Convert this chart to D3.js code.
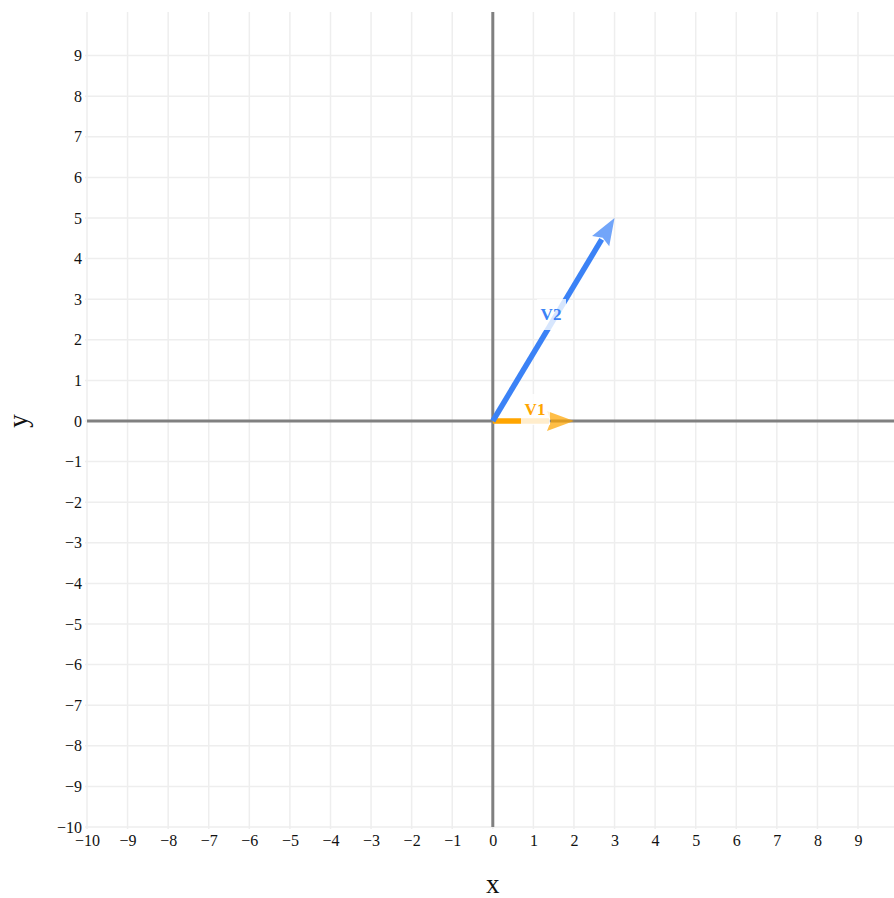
<!DOCTYPE html>
<html><head><meta charset="utf-8">
<script src="https://cdn.jsdelivr.net/npm/d3@7"></script>
<style>body{margin:0;background:#fff}svg{display:block}text{font-family:"Liberation Serif","DejaVu Serif",serif}</style>
</head><body><svg id="c" width="894" height="898"></svg>
<script>
const xTicks = d3.range(-10, 10);
const yTicks = d3.range(-10, 10);
const vectorNames = ["V1", "V2"];
const vectorX = [2, 3];
const vectorY = [0, 5];
const vectorColors = ["#FFA500", "#3B82F6"];

(function () {
const svg = d3.select("#c");
const x = d3.scaleLinear().domain([-10, 10]).range([87, 898.6]);
const y = d3.scaleLinear().domain([-10, 10]).range([827, 15]);
const pTop = 12, pBottom = 827, pLeft = 87, pRight = 894;

const grid = svg.append("g");
grid.selectAll(".gx").data(xTicks).join("line")
  .attr("x1", d => x(d)).attr("x2", d => x(d)).attr("y1", pTop).attr("y2", pBottom + 2)
  .attr("stroke", "#eeeeee").attr("stroke-width", 1.5);
grid.selectAll(".gy").data(yTicks).join("line")
  .attr("y1", d => y(d)).attr("y2", d => y(d)).attr("x1", pLeft - 2).attr("x2", pRight)
  .attr("stroke", "#eeeeee").attr("stroke-width", 1.5);

const xAxis = d3.axisBottom(x).tickValues(xTicks).tickSize(0).tickPadding(8);
const gx = svg.append("g").attr("transform", `translate(0,${pBottom})`).call(xAxis);
gx.select(".domain").remove();
gx.selectAll("text").attr("font-size", 16).attr("fill", "#111").style("font-family", "Liberation Serif, serif");

const yAxis = d3.axisLeft(y).tickValues(yTicks).tickSize(0).tickPadding(3);
const gy = svg.append("g").attr("transform", `translate(${pLeft - 2},0)`).call(yAxis);
gy.select(".domain").remove();
gy.selectAll("text").attr("font-size", 16).attr("fill", "#111").style("font-family", "Liberation Serif, serif");

svg.append("line").attr("x1", pLeft).attr("x2", pRight).attr("y1", y(0)).attr("y2", y(0))
  .attr("stroke", "#808080").attr("stroke-width", 3);
svg.append("line").attr("x1", x(0)).attr("x2", x(0)).attr("y1", pTop).attr("y2", pBottom)
  .attr("stroke", "#808080").attr("stroke-width", 3);

const headLen = 27, headW = 10;
vectorNames.forEach((name, i) => {
  const x0 = x(0), y0 = y(0), x1 = x(vectorX[i]), y1 = y(vectorY[i]);
  const dx = x1 - x0, dy = y1 - y0, L = Math.hypot(dx, dy);
  const ux = dx / L, uy = dy / L;
  const bx = x1 - ux * headLen, by = y1 - uy * headLen;
  const g = svg.append("g");
  g.append("line").attr("x1", x0).attr("y1", y0).attr("x2", bx + ux * 2).attr("y2", by + uy * 2)
    .attr("stroke", vectorColors[i]).attr("stroke-width", 5.5);
  const px = -uy, py = ux;
  g.append("path")
    .attr("d", `M${x1},${y1}L${bx + px * headW},${by + py * headW}L${bx + ux * 4},${by + uy * 4}L${bx - px * headW},${by - py * headW}Z`)
    .attr("fill", vectorColors[i]).attr("fill-opacity", 0.72);
});

const labelPos = [[535, 409], [551, 314]];
vectorNames.forEach((name, i) => {
  const [lx, ly] = labelPos[i];
  svg.append("rect").attr("x", lx - 14).attr("y", ly - 15).attr("width", 29).attr("height", 31)
    .attr("fill", "#fff").attr("fill-opacity", 0.8);
  svg.append("text").attr("x", lx).attr("y", ly + 6).attr("text-anchor", "middle")
    .attr("font-size", 17).attr("font-weight", "bold").attr("fill", vectorColors[i])
    .text(name);
});

svg.append("text").attr("x", x(0)).attr("y", 893).attr("text-anchor", "middle")
  .attr("font-size", 27).attr("fill", "#111").text("x");
svg.append("text").attr("transform", `translate(27,${y(0)}) rotate(-90)`).attr("text-anchor", "middle")
  .attr("font-size", 27).attr("fill", "#111").text("y");
})();
</script></body></html>
